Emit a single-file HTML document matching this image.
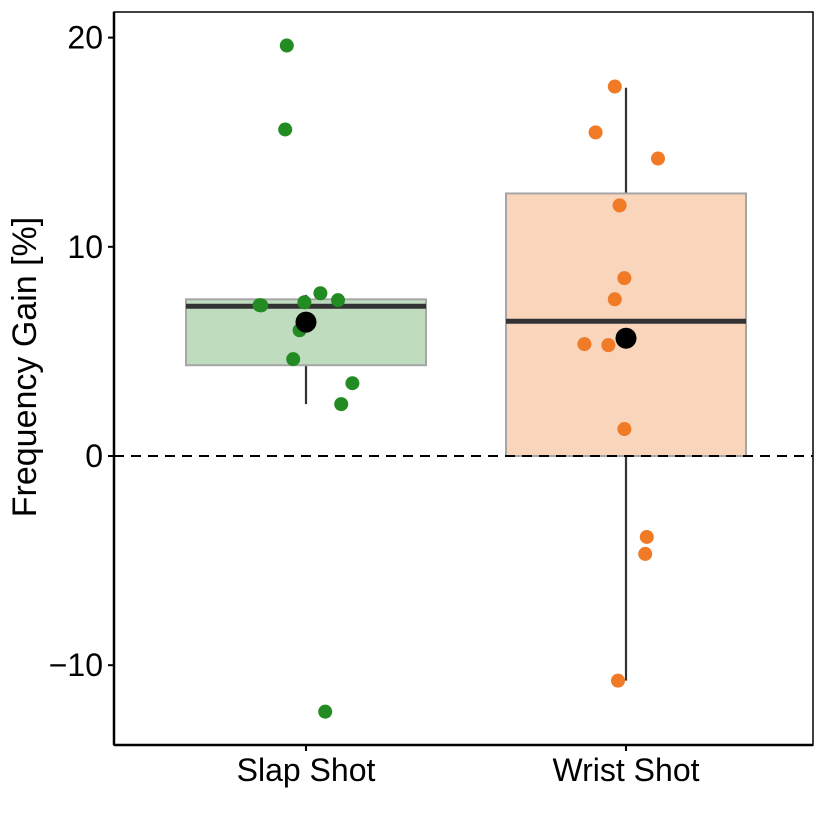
<!DOCTYPE html>
<html><head><meta charset="utf-8"><style>
html,body{margin:0;padding:0;background:#fff;}
svg{display:block;font-family:"Liberation Sans",sans-serif;}
</style></head><body>
<svg id="chart" width="830" height="830"></svg>
<script>
const categories=["Slap Shot","Wrist Shot"];
const slapValues=[19.62,15.61,7.21,7.2,7.35,7.78,7.45,6.01,4.63,3.48,2.48,-12.22];
const slapJitter=[-0.06,-0.065,-0.145,-0.14,-0.005,0.045,0.1,-0.02,-0.04,0.145,0.11,0.06];
const wristValues=[17.66,15.47,14.22,11.98,8.5,7.49,5.35,5.3,1.29,-3.87,-4.68,-10.74];
const wristJitter=[-0.035,-0.095,0.1,-0.02,-0.005,-0.035,-0.13,-0.055,-0.005,0.065,0.06,-0.025];
const boxQ1=[4.34,0];
const boxMedian=[7.16,6.44];
const boxQ3=[7.49,12.55];
const whiskLow=[2.48,-10.74];
const whiskHigh=[7.7,17.6];
const means=[6.4,5.63];
const yTicks=[-10,0,10,20];
const yTickLabels=["\u221210","0","10","20"];

const NS="http://www.w3.org/2000/svg";
const svg=document.getElementById('chart');
const L=114,R=813,T=12,B=745;
const y=v=>456-v*20.92;
const x=i=>306+i*320;
function el(tag,attrs,parent){const e=document.createElementNS(NS,tag);for(const k in attrs)e.setAttribute(k,attrs[k]);(parent||svg).appendChild(e);return e;}
const fills=["#bfdcbf","#f9d5bc"];
const ptCol=["#228b22","#f07a26"];
const boxHalf=120;
categories.forEach((c,i)=>{
  const g=el('g',{});
  
  
  el('line',{x1:x(i),x2:x(i),y1:y(whiskLow[i]),y2:y(whiskHigh[i]),stroke:'#333','stroke-width':2.2},g);
  el('rect',{x:x(i)-boxHalf,y:y(boxQ3[i]),width:boxHalf*2,height:y(boxQ1[i])-y(boxQ3[i]),fill:fills[i],stroke:'#a6a6a6','stroke-width':2},g);
  el('line',{x1:x(i)-boxHalf,x2:x(i)+boxHalf,y1:y(boxMedian[i]),y2:y(boxMedian[i]),stroke:'#333','stroke-width':5},g);
});
const zl=el('line',{x1:L,x2:R,y1:y(0),y2:y(0),stroke:'#000','stroke-width':2,'stroke-dasharray':'10,7'});


[[slapValues,slapJitter],[wristValues,wristJitter]].forEach(([vals,jit],i)=>{
  vals.forEach((v,k)=>{
    const p=el('circle',{cx:x(i)+jit[k]*320,cy:y(v),r:7,fill:ptCol[i]});
    
    
  });
  const m=el('circle',{cx:x(i),cy:y(means[i]),r:10.5,fill:'#000'});
  
  
});
const frame=el('rect',{x:L,y:T,width:R-L,height:B-T,fill:'none',stroke:'#000','stroke-width':1.5});


el('line',{x1:L,x2:R,y1:B,y2:B,stroke:'#000','stroke-width':2.5});
el('line',{x1:L,x2:L,y1:T,y2:B,stroke:'#000','stroke-width':2.5});
yTicks.forEach((t,k)=>{
  el('line',{x1:L-6,x2:L,y1:y(t),y2:y(t),stroke:'#000','stroke-width':2});
  const tx=el('text',{x:L-11,y:y(t)+11,'text-anchor':'end','font-size':32,fill:'#000'});
  tx.textContent=yTickLabels[k];
  
  
});
categories.forEach((c,i)=>{
  el('line',{x1:x(i),x2:x(i),y1:B,y2:B+6,stroke:'#000','stroke-width':2});
  const tx=el('text',{x:x(i),y:781,'text-anchor':'middle','font-size':32,fill:'#000'});
  tx.textContent=c;
  
  
});
const yt=el('text',{x:0,y:0,transform:'translate(36,367) rotate(-90)','text-anchor':'middle','font-size':34,fill:'#000'});
yt.textContent='Frequency Gain [%]';


</script>
</body></html>
